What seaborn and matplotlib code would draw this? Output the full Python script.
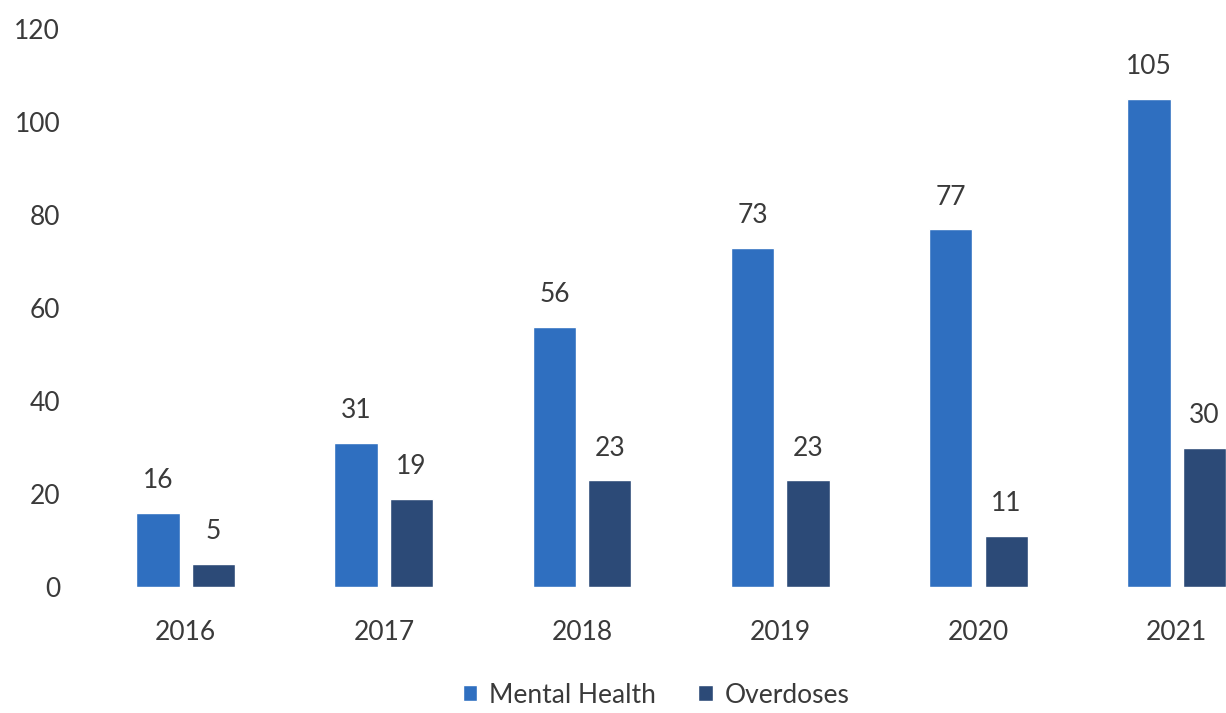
import matplotlib
matplotlib.use("Agg")
import matplotlib.pyplot as plt
import seaborn as sns
import pandas as pd

years = ["2016", "2017", "2018", "2019", "2020", "2021"]
mental_health = [16, 31, 56, 73, 77, 105]
overdoses = [5, 19, 23, 23, 11, 30]
series_names = ["Mental Health", "Overdoses"]
y_ticks = [0, 20, 40, 60, 80, 100, 120]

df = pd.DataFrame({
    "Year": years * 2,
    "Count": mental_health + overdoses,
    "Series": [series_names[0]] * len(years) + [series_names[1]] * len(years),
})

sns.set_theme(style="white")
plt.rcParams["font.family"] = ["Lato", "DejaVu Sans"]
text_color = "#3A3A3A"
palette = {"Mental Health": "#2F6FC0", "Overdoses": "#2C4A77"}

fig = plt.figure(figsize=(12.26, 7.13), dpi=100)
ax = fig.add_axes([0.0706, 0.1767, 0.970, 0.7826])

sns.barplot(data=df, x="Year", y="Count", hue="Series", palette=palette,
            width=0.56, gap=0.22, saturation=1, ax=ax, legend=True)

for container in ax.containers:
    ax.bar_label(container, fmt="%d", padding=14, fontsize=19, color=text_color)

ax.set_xlim(-0.5, 5.5)
ax.set_ylim(0, 120)
ax.set_yticks(y_ticks)
ax.set_xlabel("")
ax.set_ylabel("")
for side in ["top", "right", "left", "bottom"]:
    ax.spines[side].set_visible(False)
ax.tick_params(axis="y", length=0, pad=19, labelsize=19, labelcolor=text_color)
ax.tick_params(axis="x", length=0, pad=24, labelsize=19, labelcolor=text_color)

handles, labels = ax.get_legend_handles_labels()
ax.legend_.remove()
fig.legend(handles, labels, loc="center", bbox_to_anchor=(0.535, 0.025),
           ncol=2, frameon=False, fontsize=19, labelcolor=text_color,
           handlelength=0.55, handleheight=0.55, handletextpad=0.45,
           columnspacing=1.6)

fig.savefig("out.png", dpi=100)
